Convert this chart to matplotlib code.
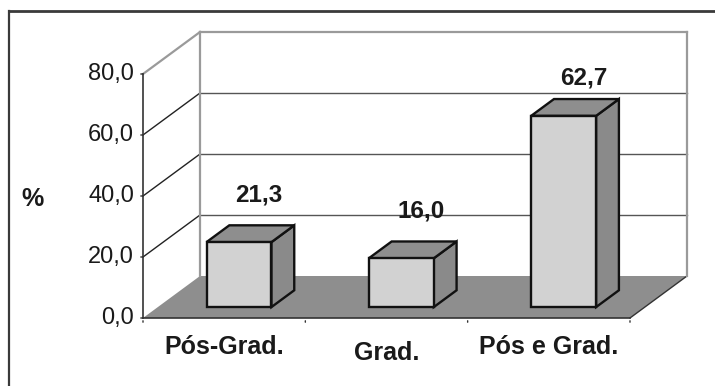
import matplotlib
matplotlib.use("Agg")
import matplotlib.pyplot as plt
from matplotlib.patches import Polygon
from matplotlib.lines import Line2D

# Data
categories = ["Pós-Grad.", "Grad.", "Pós e Grad."]
values = [21.3, 16.0, 62.7]
y_ticks = [0, 20, 40, 60, 80]
y_label = "%"

plt.rcParams["font.family"] = ["Liberation Sans", "DejaVu Sans"]

W, H, DPI = 715, 386, 100
fig = plt.figure(figsize=(W / DPI, H / DPI), dpi=DPI)
ax = fig.add_axes([0, 0, 1, 1])

# Pixel geometry of the front plane -> data limits
px_per_cat = 162.33
px_per_unit = 3.05
x_front_px, y_zero_px = 143, 318
ax.set_xlim(-0.5 - x_front_px / px_per_cat, -0.5 + (W - x_front_px) / px_per_cat)
ax.set_ylim((y_zero_px - H) / px_per_unit, y_zero_px / px_per_unit)
ax.axis("off")

# Oblique depth offset of the 3D box (in data units)
DX = 57 / px_per_cat
DY = 42 / px_per_unit
ymax = 80
n = len(categories)
x_lo, x_hi = -0.5, n - 0.5


def proj(x, y, d):
    return (x + d * DX, y + d * DY)


# Floor
floor = Polygon([proj(x_lo, 0, 0), proj(x_hi, 0, 0), proj(x_hi, 0, 1), proj(x_lo, 0, 1)],
                closed=True, facecolor="#8e8e8e", edgecolor="none", zorder=1)
ax.add_patch(floor)
ax.plot(*zip(proj(x_hi, 0, 0), proj(x_hi, 0, 1)), color="#333333", lw=1.0, zorder=2)

# Walls: gridlines on the back wall and diagonals on the left wall
for t in y_ticks[1:]:
    top = t == ymax
    c_back = "#9a9a9a" if top else "#555555"
    c_side = "#9a9a9a" if top else "#222222"
    lw = 1.6 if top else 1.0
    ax.plot(*zip(proj(x_lo, t, 1), proj(x_hi, t, 1)), color=c_back, lw=lw, zorder=2)
    ax.plot(*zip(proj(x_lo, t, 0), proj(x_lo, t, 1)), color=c_side, lw=lw, zorder=2)

for xv in (x_lo, x_hi):
    ax.plot(*zip(proj(xv, 0, 1), proj(xv, ymax, 1)), color="#9a9a9a", lw=1.6, zorder=2)

# Front value axis with ticks
ax.plot([x_lo, x_lo], [0, ymax], color="#333333", lw=1.2, zorder=3)
for t in y_ticks:
    ax.annotate("", xy=(x_lo, t), xytext=(-5, 0), textcoords="offset pixels",
                arrowprops=dict(arrowstyle="-", color="#333333", lw=1.0), zorder=3)
    ax.annotate(f"{t:.1f}".replace(".", ","), xy=(x_lo, t), xytext=(-9, 0),
                textcoords="offset pixels", ha="right", va="center",
                fontsize=17, color="#1a1a1a")

# Category axis line and ticks
ax.plot([x_lo, x_hi], [0, 0], color="#333333", lw=1.2, zorder=3)
for k in range(n + 1):
    xv = x_lo + k
    ax.annotate("", xy=(xv, 0), xytext=(0, -7), textcoords="offset pixels",
                arrowprops=dict(arrowstyle="-", color="#333333", lw=1.0), zorder=3)

# Bars as oblique boxes
bar_w = 0.4
d0, d1 = 0.26, 0.66
front_c, top_c, side_c = "#d2d2d2", "#8e8e8e", "#8a8a8a"
edge = dict(edgecolor="#111111", linewidth=1.7, joinstyle="miter")
label_lift_px = [30, 30, 21]
for i, v in enumerate(values):
    xa, xb = i - bar_w / 2, i + bar_w / 2
    front = Polygon([proj(xa, 0, d0), proj(xb, 0, d0), proj(xb, v, d0), proj(xa, v, d0)],
                    facecolor=front_c, zorder=5, **edge)
    top = Polygon([proj(xa, v, d0), proj(xb, v, d0), proj(xb, v, d1), proj(xa, v, d1)],
                  facecolor=top_c, zorder=4, **edge)
    side = Polygon([proj(xb, 0, d0), proj(xb, v, d0), proj(xb, v, d1), proj(xb, 0, d1)],
                   facecolor=side_c, zorder=4, **edge)
    for p in (side, top, front):
        ax.add_patch(p)
    ax.annotate(f"{v:.1f}".replace(".", ","), xy=proj(i, v, d1),
                xytext=(-3, label_lift_px[i]), textcoords="offset pixels",
                ha="center", va="center", fontsize=17.5, fontweight="bold",
                color="#1a1a1a", zorder=6)

# Category labels
cat_drop_px = [-36, -42, -36]
for i, c in enumerate(categories):
    ax.annotate(c, xy=(i, 0), xytext=(0, cat_drop_px[i]), textcoords="offset pixels",
                ha="center", va="baseline", fontsize=18, fontweight="bold",
                color="#1a1a1a")

# Axis title
fig.text(32 / W, 1 - 199 / H, y_label, ha="center", va="center",
         fontsize=18, fontweight="bold", color="#1a1a1a")

# Chart border (top and left edges)
fig.add_artist(Line2D([9 / W, 1.0], [1 - 11 / H, 1 - 11 / H], transform=fig.transFigure,
                      color="#3a3a3a", lw=2.0))
fig.add_artist(Line2D([9 / W, 9 / W], [0, 1 - 11 / H], transform=fig.transFigure,
                      color="#3a3a3a", lw=1.6))

fig.savefig("out.png", dpi=DPI)
